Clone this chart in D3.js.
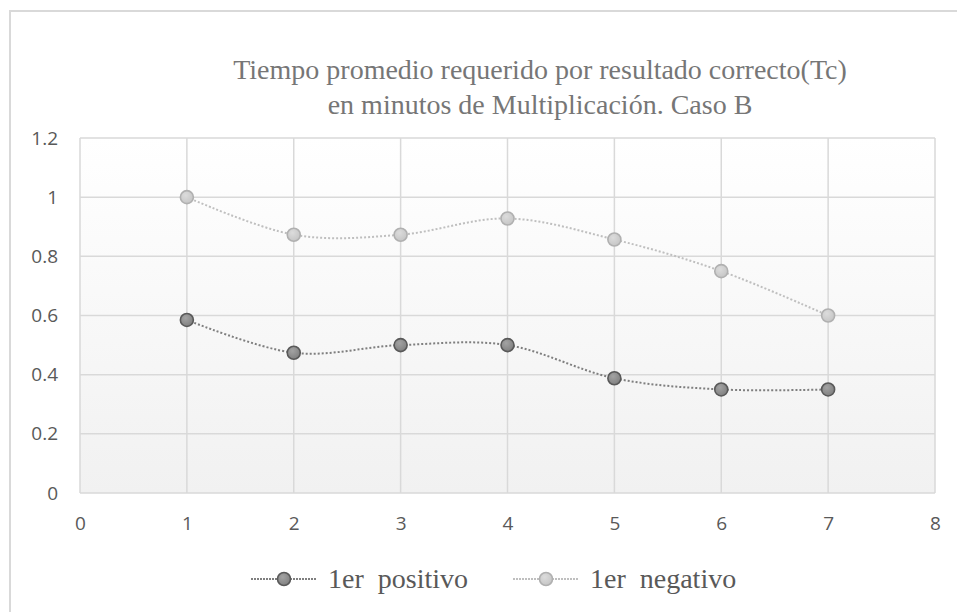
<!DOCTYPE html>
<html>
  <head>
    <meta charset="utf-8">
    <title>Tiempo promedio Tc - Caso B</title>
    <script src="https://d3js.org/d3.v7.min.js"></script>
    <style>
      body { margin: 0; background: #fff; }
      svg { display: block; }
    </style>
  </head>
  <body>
    <div id="chart"></div>
    <script>
      // data
      var titleLines = ["Tiempo promedio requerido por resultado correcto(Tc)", "en minutos de Multiplicación. Caso B"];
      var xValues = [1, 2, 3, 4, 5, 6, 7];
      var positivo = [0.585, 0.474, 0.5, 0.5, 0.388, 0.35, 0.35];
      var negativo = [1.0, 0.873, 0.873, 0.928, 0.857, 0.75, 0.6];
      var xTicks = [0, 1, 2, 3, 4, 5, 6, 7, 8];
      var yTicks = [0, 0.2, 0.4, 0.6, 0.8, 1, 1.2];
      var seriesNames = ["1er  positivo", "1er  negativo"];

      var width = 957, height = 612;
      var plot = { left: 80, right: 935, top: 138, bottom: 493 };
      var serif = "'Liberation Serif', 'Times New Roman', serif";
      var sans = "'Open Sans', 'Liberation Sans', sans-serif";

      var svg = d3.select("#chart").append("svg")
        .attr("width", width)
        .attr("height", height);

      // gradients
      var defs = svg.append("defs");
      var bg = defs.append("linearGradient").attr("id", "bg")
        .attr("x1", 0).attr("y1", 0).attr("x2", 0).attr("y2", 1);
      bg.append("stop").attr("offset", "0%").attr("stop-color", "#ffffff");
      bg.append("stop").attr("offset", "100%").attr("stop-color", "#f1f1f1");
      var darkDot = defs.append("radialGradient").attr("id", "darkDot")
        .attr("cx", "40%").attr("cy", "35%").attr("r", "70%");
      darkDot.append("stop").attr("offset", "0%").attr("stop-color", "#a3a3a3");
      darkDot.append("stop").attr("offset", "100%").attr("stop-color", "#7e7e7e");
      var lightDot = defs.append("radialGradient").attr("id", "lightDot")
        .attr("cx", "40%").attr("cy", "35%").attr("r", "70%");
      lightDot.append("stop").attr("offset", "0%").attr("stop-color", "#dcdcdc");
      lightDot.append("stop").attr("offset", "100%").attr("stop-color", "#c4c4c4");

      // chart border (runs off the right and bottom edges)
      svg.append("rect")
        .attr("x", 10).attr("y", 11)
        .attr("width", width).attr("height", height)
        .attr("fill", "none")
        .attr("stroke", "#d9d9d9")
        .attr("stroke-width", 2);

      // title
      svg.append("text")
        .attr("text-anchor", "middle")
        .style("font-family", serif)
        .style("font-size", "28px")
        .style("fill", "#767676")
        .selectAll("tspan")
        .data(titleLines)
        .enter().append("tspan")
          .attr("x", 540)
          .attr("y", function(d, i) { return 79 + i * 35; })
          .text(function(d) { return d; });

      // scales
      var x = d3.scaleLinear().domain([0, 8]).range([plot.left, plot.right]);
      var y = d3.scaleLinear().domain([0, 1.2]).range([plot.bottom, plot.top]);

      svg.append("rect")
        .attr("x", plot.left).attr("y", plot.top)
        .attr("width", plot.right - plot.left)
        .attr("height", plot.bottom - plot.top)
        .attr("fill", "url(#bg)");

      // gridlines
      svg.append("g")
        .selectAll("line")
        .data(yTicks)
        .enter().append("line")
          .attr("x1", plot.left).attr("x2", plot.right)
          .attr("y1", function(d) { return y(d); })
          .attr("y2", function(d) { return y(d); })
          .attr("stroke", "#d9d9d9")
          .attr("stroke-width", 1.5);
      svg.append("g")
        .selectAll("line")
        .data(xTicks)
        .enter().append("line")
          .attr("x1", function(d) { return x(d); })
          .attr("x2", function(d) { return x(d); })
          .attr("y1", plot.top).attr("y2", plot.bottom)
          .attr("stroke", "#d9d9d9")
          .attr("stroke-width", 1.5);

      // axes (labels only)
      var xAxis = svg.append("g")
        .attr("transform", "translate(0," + plot.bottom + ")")
        .call(d3.axisBottom(x).tickValues(xTicks).tickSize(0).tickPadding(24).tickFormat(d3.format("d")));
      xAxis.select(".domain").remove();
      var yAxis = svg.append("g")
        .attr("transform", "translate(" + plot.left + ",0)")
        .call(d3.axisLeft(y).tickValues(yTicks).tickSize(0).tickPadding(22).tickFormat(function(d) { return String(d); }));
      yAxis.select(".domain").remove();
      svg.selectAll(".tick text")
        .style("font-family", sans)
        .style("font-size", "19px")
        .style("fill", "#595959");

      // series
      var series = [
        { name: seriesNames[0], values: positivo, line: "#7f7f7f", fill: "url(#darkDot)", stroke: "#595959" },
        { name: seriesNames[1], values: negativo, line: "#bfbfbf", fill: "url(#lightDot)", stroke: "#b0b0b0" }
      ];
      var line = d3.line()
        .x(function(d) { return x(d[0]); })
        .y(function(d) { return y(d[1]); })
        .curve(d3.curveCatmullRom.alpha(0));

      series.forEach(function(s) {
        var pts = xValues.map(function(v, i) { return [v, s.values[i]]; });
        svg.append("path")
          .datum(pts)
          .attr("d", line)
          .attr("fill", "none")
          .attr("stroke", s.line)
          .attr("stroke-width", 2)
          .attr("stroke-dasharray", "2,2");
        svg.append("g")
          .selectAll("circle")
          .data(pts)
          .enter().append("circle")
            .attr("cx", function(d) { return x(d[0]); })
            .attr("cy", function(d) { return y(d[1]); })
            .attr("r", 6.5)
            .attr("fill", s.fill)
            .attr("stroke", s.stroke)
            .attr("stroke-width", 1.6);
      });

      // legend
      var legendX = [251, 513];
      var legend = svg.append("g")
        .selectAll("g")
        .data(series)
        .enter().append("g")
          .attr("transform", function(d, i) { return "translate(" + legendX[i] + ",579)"; });
      legend.append("line")
        .attr("x1", 0).attr("x2", 66)
        .attr("stroke", function(d) { return d.line; })
        .attr("stroke-width", 2)
        .attr("stroke-dasharray", "2,1");
      legend.append("circle")
        .attr("cx", 33).attr("r", 6.5)
        .attr("fill", function(d) { return d.fill; })
        .attr("stroke", function(d) { return d.stroke; })
        .attr("stroke-width", 1.6);
      legend.append("text")
        .attr("x", 77).attr("y", 9)
        .style("font-family", serif)
        .style("font-size", "28px")
        .style("fill", "#595959")
        .style("white-space", "pre")
        .text(function(d) { return d.name; });
    </script>
  </body>
</html>
